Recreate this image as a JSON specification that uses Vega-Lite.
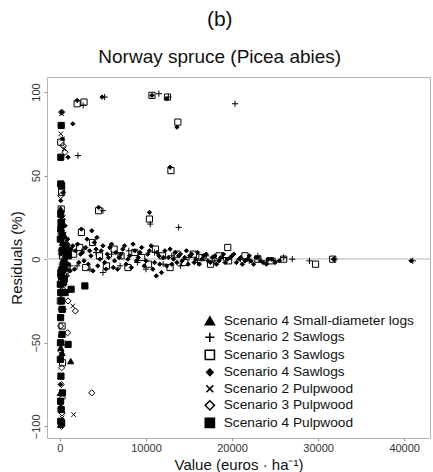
{
  "$schema": "https://vega.github.io/schema/vega-lite/v6.json",
  "width": 383,
  "height": 361,
  "autosize": {"type": "none"},
  "padding": {"left": 47, "top": 77, "right": 3, "bottom": 34},
  "background": "white",
  "config": {
    "font": "Liberation Sans",
    "view": {"stroke": "#b5b5b5", "strokeWidth": 1},
    "axis": {"grid": false, "domain": false, "tickColor": "#999", "tickSize": 3, "labelColor": "#333", "labelFontSize": 11, "titleFontSize": 15, "titleFontWeight": "normal", "titleColor": "#111"},
    "legend": {
      "labelFontSize": 13.7,
      "labelColor": "#111",
      "symbolSize": 85,
      "rowPadding": 1.5,
      "labelOffset": 7,
      "labelLimit": 300
    }
  },
  "title": {
    "text": "(b)",
    "subtitle": "Norway spruce (Picea abies)",
    "fontSize": 21,
    "fontWeight": "normal",
    "subtitleFontSize": 19,
    "subtitleColor": "#111",
    "color": "#111",
    "subtitlePadding": 18,
    "anchor": "middle",
    "frame": "bounds",
    "offset": 10
  },
  "data": {
    "values": [
      {"series": "Scenario 4 Sawlogs", "value": 2000, "residual": 95},
      {"series": "Scenario 4 Sawlogs", "value": 4900, "residual": 97},
      {"series": "Scenario 4 Sawlogs", "value": 10700, "residual": 98},
      {"series": "Scenario 4 Sawlogs", "value": 12400, "residual": 96},
      {"series": "Scenario 4 Sawlogs", "value": 13600, "residual": 79},
      {"series": "Scenario 4 Sawlogs", "value": 12800, "residual": 55},
      {"series": "Scenario 4 Sawlogs", "value": 1500, "residual": 81},
      {"series": "Scenario 4 Sawlogs", "value": 950, "residual": 61},
      {"series": "Scenario 4 Sawlogs", "value": 4500, "residual": 31},
      {"series": "Scenario 4 Sawlogs", "value": 10400, "residual": 28},
      {"series": "Scenario 4 Sawlogs", "value": 2500, "residual": 18},
      {"series": "Scenario 4 Sawlogs", "value": 3700, "residual": 17},
      {"series": "Scenario 4 Sawlogs", "value": 4300, "residual": 13},
      {"series": "Scenario 4 Sawlogs", "value": 200, "residual": 88},
      {"series": "Scenario 4 Sawlogs", "value": 300, "residual": 72},
      {"series": "Scenario 4 Sawlogs", "value": 400, "residual": 40},
      {"series": "Scenario 4 Sawlogs", "value": 150, "residual": 25},
      {"series": "Scenario 4 Sawlogs", "value": 600, "residual": 20},
      {"series": "Scenario 4 Sawlogs", "value": 1500, "residual": 8},
      {"series": "Scenario 4 Sawlogs", "value": 1800, "residual": 5},
      {"series": "Scenario 4 Sawlogs", "value": 2200, "residual": -2},
      {"series": "Scenario 4 Sawlogs", "value": 2600, "residual": 4},
      {"series": "Scenario 4 Sawlogs", "value": 3000, "residual": 7},
      {"series": "Scenario 4 Sawlogs", "value": 3300, "residual": -3},
      {"series": "Scenario 4 Sawlogs", "value": 3600, "residual": 2},
      {"series": "Scenario 4 Sawlogs", "value": 4000, "residual": 10},
      {"series": "Scenario 4 Sawlogs", "value": 4400, "residual": -4},
      {"series": "Scenario 4 Sawlogs", "value": 4800, "residual": 5},
      {"series": "Scenario 4 Sawlogs", "value": 5200, "residual": -2},
      {"series": "Scenario 4 Sawlogs", "value": 5500, "residual": 3},
      {"series": "Scenario 4 Sawlogs", "value": 5800, "residual": 7},
      {"series": "Scenario 4 Sawlogs", "value": 6200, "residual": -5},
      {"series": "Scenario 4 Sawlogs", "value": 6500, "residual": 4},
      {"series": "Scenario 4 Sawlogs", "value": 6900, "residual": 1},
      {"series": "Scenario 4 Sawlogs", "value": 7300, "residual": 6},
      {"series": "Scenario 4 Sawlogs", "value": 7700, "residual": -3},
      {"series": "Scenario 4 Sawlogs", "value": 8100, "residual": 2},
      {"series": "Scenario 4 Sawlogs", "value": 8500, "residual": 9},
      {"series": "Scenario 4 Sawlogs", "value": 8900, "residual": -1},
      {"series": "Scenario 4 Sawlogs", "value": 9300, "residual": 4},
      {"series": "Scenario 4 Sawlogs", "value": 9800, "residual": -4},
      {"series": "Scenario 4 Sawlogs", "value": 10200, "residual": 3},
      {"series": "Scenario 4 Sawlogs", "value": 10600, "residual": 8},
      {"series": "Scenario 4 Sawlogs", "value": 11000, "residual": -2},
      {"series": "Scenario 4 Sawlogs", "value": 11200, "residual": -10},
      {"series": "Scenario 4 Sawlogs", "value": 11500, "residual": 2},
      {"series": "Scenario 4 Sawlogs", "value": 11800, "residual": -8},
      {"series": "Scenario 4 Sawlogs", "value": 12200, "residual": 5},
      {"series": "Scenario 4 Sawlogs", "value": 12600, "residual": 1},
      {"series": "Scenario 4 Sawlogs", "value": 13000, "residual": -3},
      {"series": "Scenario 4 Sawlogs", "value": 13400, "residual": 4},
      {"series": "Scenario 4 Sawlogs", "value": 13800, "residual": 2},
      {"series": "Scenario 4 Sawlogs", "value": 14200, "residual": -1},
      {"series": "Scenario 4 Sawlogs", "value": 14700, "residual": 5},
      {"series": "Scenario 4 Sawlogs", "value": 15100, "residual": 2},
      {"series": "Scenario 4 Sawlogs", "value": 15600, "residual": -2},
      {"series": "Scenario 4 Sawlogs", "value": 16000, "residual": 4},
      {"series": "Scenario 4 Sawlogs", "value": 16500, "residual": 0},
      {"series": "Scenario 4 Sawlogs", "value": 17000, "residual": 3},
      {"series": "Scenario 4 Sawlogs", "value": 17500, "residual": -2},
      {"series": "Scenario 4 Sawlogs", "value": 18000, "residual": 2},
      {"series": "Scenario 4 Sawlogs", "value": 18500, "residual": -1},
      {"series": "Scenario 4 Sawlogs", "value": 19000, "residual": 3},
      {"series": "Scenario 4 Sawlogs", "value": 19500, "residual": 0},
      {"series": "Scenario 4 Sawlogs", "value": 20000, "residual": 2},
      {"series": "Scenario 4 Sawlogs", "value": 20500, "residual": -2},
      {"series": "Scenario 4 Sawlogs", "value": 21000, "residual": 1},
      {"series": "Scenario 4 Sawlogs", "value": 21500, "residual": -1},
      {"series": "Scenario 4 Sawlogs", "value": 22000, "residual": 2},
      {"series": "Scenario 4 Sawlogs", "value": 22500, "residual": -3},
      {"series": "Scenario 4 Sawlogs", "value": 23000, "residual": 1},
      {"series": "Scenario 4 Sawlogs", "value": 23600, "residual": -2},
      {"series": "Scenario 4 Sawlogs", "value": 24200, "residual": 0},
      {"series": "Scenario 4 Sawlogs", "value": 25000, "residual": -2},
      {"series": "Scenario 4 Sawlogs", "value": 31800, "residual": 0},
      {"series": "Scenario 4 Sawlogs", "value": 40800, "residual": -1},
      {"series": "Scenario 4 Sawlogs", "value": 1700, "residual": -6},
      {"series": "Scenario 4 Sawlogs", "value": 2050, "residual": 9},
      {"series": "Scenario 4 Sawlogs", "value": 2400, "residual": 3},
      {"series": "Scenario 4 Sawlogs", "value": 2800, "residual": -1},
      {"series": "Scenario 4 Sawlogs", "value": 3150, "residual": 12},
      {"series": "Scenario 4 Sawlogs", "value": 3450, "residual": 5},
      {"series": "Scenario 4 Sawlogs", "value": 3850, "residual": -7},
      {"series": "Scenario 4 Sawlogs", "value": 4200, "residual": 6},
      {"series": "Scenario 4 Sawlogs", "value": 4650, "residual": 0},
      {"series": "Scenario 4 Sawlogs", "value": 5000, "residual": 8},
      {"series": "Scenario 4 Sawlogs", "value": 5350, "residual": -6},
      {"series": "Scenario 4 Sawlogs", "value": 5650, "residual": 1},
      {"series": "Scenario 4 Sawlogs", "value": 6000, "residual": 9},
      {"series": "Scenario 4 Sawlogs", "value": 6350, "residual": -1},
      {"series": "Scenario 4 Sawlogs", "value": 6700, "residual": -6},
      {"series": "Scenario 4 Sawlogs", "value": 7100, "residual": 3},
      {"series": "Scenario 4 Sawlogs", "value": 7500, "residual": 8},
      {"series": "Scenario 4 Sawlogs", "value": 7900, "residual": 0},
      {"series": "Scenario 4 Sawlogs", "value": 8300, "residual": -5},
      {"series": "Scenario 4 Sawlogs", "value": 8700, "residual": 5},
      {"series": "Scenario 4 Sawlogs", "value": 9100, "residual": 1},
      {"series": "Scenario 4 Sawlogs", "value": 9500, "residual": 7},
      {"series": "Scenario 4 Sawlogs", "value": 10000, "residual": -1},
      {"series": "Scenario 4 Sawlogs", "value": 10400, "residual": 5},
      {"series": "Scenario 4 Sawlogs", "value": 10800, "residual": -6},
      {"series": "Scenario 4 Sawlogs", "value": 11300, "residual": 4},
      {"series": "Scenario 4 Sawlogs", "value": 11600, "residual": -3},
      {"series": "Scenario 4 Sawlogs", "value": 12000, "residual": 1},
      {"series": "Scenario 4 Sawlogs", "value": 12400, "residual": -4},
      {"series": "Scenario 4 Sawlogs", "value": 12800, "residual": 6},
      {"series": "Scenario 4 Sawlogs", "value": 13200, "residual": 0},
      {"series": "Scenario 4 Sawlogs", "value": 13600, "residual": -2},
      {"series": "Scenario 4 Sawlogs", "value": 14000, "residual": 3},
      {"series": "Scenario 4 Sawlogs", "value": 14500, "residual": 1},
      {"series": "Scenario 4 Sawlogs", "value": 14900, "residual": -3},
      {"series": "Scenario 4 Sawlogs", "value": 15300, "residual": 3},
      {"series": "Scenario 4 Sawlogs", "value": 15800, "residual": 0},
      {"series": "Scenario 4 Sawlogs", "value": 16200, "residual": -3},
      {"series": "Scenario 4 Sawlogs", "value": 16700, "residual": 2},
      {"series": "Scenario 4 Sawlogs", "value": 17200, "residual": -1},
      {"series": "Scenario 4 Sawlogs", "value": 17700, "residual": 1},
      {"series": "Scenario 4 Sawlogs", "value": 18200, "residual": -3},
      {"series": "Scenario 4 Sawlogs", "value": 18700, "residual": 1},
      {"series": "Scenario 4 Sawlogs", "value": 19200, "residual": -2},
      {"series": "Scenario 4 Sawlogs", "value": 19800, "residual": 1},
      {"series": "Scenario 4 Sawlogs", "value": 20200, "residual": 3},
      {"series": "Scenario 4 Sawlogs", "value": 20800, "residual": 0},
      {"series": "Scenario 4 Sawlogs", "value": 21200, "residual": -3},
      {"series": "Scenario 4 Sawlogs", "value": 21800, "residual": 0},
      {"series": "Scenario 4 Sawlogs", "value": 22200, "residual": -1},
      {"series": "Scenario 4 Sawlogs", "value": 22800, "residual": 1},
      {"series": "Scenario 4 Sawlogs", "value": 23300, "residual": -1},
      {"series": "Scenario 4 Sawlogs", "value": 24000, "residual": -3},
      {"series": "Scenario 4 Sawlogs", "value": 24600, "residual": 0},
      {"series": "Scenario 4 Sawlogs", "value": 25500, "residual": -1},
      {"series": "Scenario 4 Sawlogs", "value": 50, "residual": -5},
      {"series": "Scenario 4 Sawlogs", "value": 100, "residual": 3},
      {"series": "Scenario 4 Sawlogs", "value": 150, "residual": -12},
      {"series": "Scenario 4 Sawlogs", "value": 200, "residual": 10},
      {"series": "Scenario 4 Sawlogs", "value": 250, "residual": -2},
      {"series": "Scenario 4 Sawlogs", "value": 300, "residual": 6},
      {"series": "Scenario 4 Sawlogs", "value": 350, "residual": -8},
      {"series": "Scenario 4 Sawlogs", "value": 400, "residual": 14},
      {"series": "Scenario 4 Sawlogs", "value": 500, "residual": 1},
      {"series": "Scenario 4 Sawlogs", "value": 600, "residual": -15},
      {"series": "Scenario 4 Sawlogs", "value": 700, "residual": 5},
      {"series": "Scenario 4 Sawlogs", "value": 800, "residual": -6},
      {"series": "Scenario 4 Sawlogs", "value": 900, "residual": 12},
      {"series": "Scenario 4 Sawlogs", "value": 1000, "residual": -3},
      {"series": "Scenario 4 Sawlogs", "value": 1100, "residual": 4},
      {"series": "Scenario 4 Sawlogs", "value": 1200, "residual": -7},
      {"series": "Scenario 4 Sawlogs", "value": 50, "residual": -30},
      {"series": "Scenario 4 Sawlogs", "value": 100, "residual": -45},
      {"series": "Scenario 4 Sawlogs", "value": 120, "residual": -60},
      {"series": "Scenario 4 Sawlogs", "value": 80, "residual": -75},
      {"series": "Scenario 4 Sawlogs", "value": 60, "residual": -85},
      {"series": "Scenario 4 Sawlogs", "value": 100, "residual": -97},
      {"series": "Scenario 4 Sawlogs", "value": 150, "residual": 60},
      {"series": "Scenario 4 Sawlogs", "value": 100, "residual": 35},
      {"series": "Scenario 4 Sawlogs", "value": 200, "residual": -20},
      {"series": "Scenario 4 Sawlogs", "value": 300, "residual": 17},
      {"series": "Scenario 4 Sawlogs", "value": 450, "residual": -10},
      {"series": "Scenario 4 Sawlogs", "value": 550, "residual": 8},
      {"series": "Scenario 4 Sawlogs", "value": 650, "residual": -4},
      {"series": "Scenario 4 Sawlogs", "value": 1300, "residual": 6},

      {"series": "Scenario 2 Sawlogs", "value": 2700, "residual": 92},
      {"series": "Scenario 2 Sawlogs", "value": 5200, "residual": 97},
      {"series": "Scenario 2 Sawlogs", "value": 11500, "residual": 99},
      {"series": "Scenario 2 Sawlogs", "value": 12600, "residual": 97},
      {"series": "Scenario 2 Sawlogs", "value": 20350, "residual": 93},
      {"series": "Scenario 2 Sawlogs", "value": 2100, "residual": 62},
      {"series": "Scenario 2 Sawlogs", "value": 5000, "residual": 29},
      {"series": "Scenario 2 Sawlogs", "value": 10500, "residual": 21},
      {"series": "Scenario 2 Sawlogs", "value": 13800, "residual": 19},
      {"series": "Scenario 2 Sawlogs", "value": 29000, "residual": -1},
      {"series": "Scenario 2 Sawlogs", "value": 27000, "residual": 0},
      {"series": "Scenario 2 Sawlogs", "value": 31900, "residual": 0},
      {"series": "Scenario 2 Sawlogs", "value": 41000, "residual": -1},
      {"series": "Scenario 2 Sawlogs", "value": 26000, "residual": 1},
      {"series": "Scenario 2 Sawlogs", "value": 25000, "residual": -1},
      {"series": "Scenario 2 Sawlogs", "value": 2000, "residual": -4},
      {"series": "Scenario 2 Sawlogs", "value": 2800, "residual": 6},
      {"series": "Scenario 2 Sawlogs", "value": 3500, "residual": -6},
      {"series": "Scenario 2 Sawlogs", "value": 4200, "residual": 4},
      {"series": "Scenario 2 Sawlogs", "value": 5000, "residual": -8},
      {"series": "Scenario 2 Sawlogs", "value": 6000, "residual": 3},
      {"series": "Scenario 2 Sawlogs", "value": 7000, "residual": -4},
      {"series": "Scenario 2 Sawlogs", "value": 8000, "residual": 5},
      {"series": "Scenario 2 Sawlogs", "value": 9000, "residual": -2},
      {"series": "Scenario 2 Sawlogs", "value": 10000, "residual": -6},
      {"series": "Scenario 2 Sawlogs", "value": 11000, "residual": 4},
      {"series": "Scenario 2 Sawlogs", "value": 12000, "residual": -3},
      {"series": "Scenario 2 Sawlogs", "value": 13000, "residual": 2},
      {"series": "Scenario 2 Sawlogs", "value": 14000, "residual": -4},
      {"series": "Scenario 2 Sawlogs", "value": 15000, "residual": 1},
      {"series": "Scenario 2 Sawlogs", "value": 16000, "residual": -2},
      {"series": "Scenario 2 Sawlogs", "value": 17000, "residual": 2},
      {"series": "Scenario 2 Sawlogs", "value": 18000, "residual": -1},
      {"series": "Scenario 2 Sawlogs", "value": 19000, "residual": 1},
      {"series": "Scenario 2 Sawlogs", "value": 21000, "residual": 0},
      {"series": "Scenario 2 Sawlogs", "value": 22000, "residual": -1},
      {"series": "Scenario 2 Sawlogs", "value": 23000, "residual": 2},
      {"series": "Scenario 2 Sawlogs", "value": 24000, "residual": -1},
      {"series": "Scenario 2 Sawlogs", "value": 100, "residual": 5},
      {"series": "Scenario 2 Sawlogs", "value": 200, "residual": -3},
      {"series": "Scenario 2 Sawlogs", "value": 300, "residual": 8},
      {"series": "Scenario 2 Sawlogs", "value": 400, "residual": -6},
      {"series": "Scenario 2 Sawlogs", "value": 600, "residual": 2},
      {"series": "Scenario 2 Sawlogs", "value": 800, "residual": -10},
      {"series": "Scenario 2 Sawlogs", "value": 1000, "residual": 6},
      {"series": "Scenario 2 Sawlogs", "value": 150, "residual": 20},
      {"series": "Scenario 2 Sawlogs", "value": 250, "residual": -18},
      {"series": "Scenario 2 Sawlogs", "value": 1200, "residual": -4},

      {"series": "Scenario 3 Sawlogs", "value": 2000, "residual": 93},
      {"series": "Scenario 3 Sawlogs", "value": 2800, "residual": 94},
      {"series": "Scenario 3 Sawlogs", "value": 10700, "residual": 98},
      {"series": "Scenario 3 Sawlogs", "value": 12500, "residual": 97},
      {"series": "Scenario 3 Sawlogs", "value": 13700, "residual": 82},
      {"series": "Scenario 3 Sawlogs", "value": 12900, "residual": 53},
      {"series": "Scenario 3 Sawlogs", "value": 10400, "residual": 24},
      {"series": "Scenario 3 Sawlogs", "value": 4500, "residual": 29},
      {"series": "Scenario 3 Sawlogs", "value": 2500, "residual": 16},
      {"series": "Scenario 3 Sawlogs", "value": 19500, "residual": 7},
      {"series": "Scenario 3 Sawlogs", "value": 29700, "residual": -3},
      {"series": "Scenario 3 Sawlogs", "value": 31700, "residual": 0},
      {"series": "Scenario 3 Sawlogs", "value": 200, "residual": 40},
      {"series": "Scenario 3 Sawlogs", "value": 150, "residual": 30},
      {"series": "Scenario 3 Sawlogs", "value": 100, "residual": 70},
      {"series": "Scenario 3 Sawlogs", "value": 250, "residual": -40},
      {"series": "Scenario 3 Sawlogs", "value": 300, "residual": -62},
      {"series": "Scenario 3 Sawlogs", "value": 1600, "residual": 3},
      {"series": "Scenario 3 Sawlogs", "value": 2300, "residual": 7},
      {"series": "Scenario 3 Sawlogs", "value": 3000, "residual": -5},
      {"series": "Scenario 3 Sawlogs", "value": 3800, "residual": 10},
      {"series": "Scenario 3 Sawlogs", "value": 4600, "residual": 2},
      {"series": "Scenario 3 Sawlogs", "value": 5400, "residual": -4},
      {"series": "Scenario 3 Sawlogs", "value": 6300, "residual": 6},
      {"series": "Scenario 3 Sawlogs", "value": 7100, "residual": 2},
      {"series": "Scenario 3 Sawlogs", "value": 7900, "residual": -5},
      {"series": "Scenario 3 Sawlogs", "value": 8700, "residual": 4},
      {"series": "Scenario 3 Sawlogs", "value": 9500, "residual": 1},
      {"series": "Scenario 3 Sawlogs", "value": 10300, "residual": -3},
      {"series": "Scenario 3 Sawlogs", "value": 11100, "residual": 6},
      {"series": "Scenario 3 Sawlogs", "value": 11900, "residual": 2},
      {"series": "Scenario 3 Sawlogs", "value": 12800, "residual": -5},
      {"series": "Scenario 3 Sawlogs", "value": 13600, "residual": 3},
      {"series": "Scenario 3 Sawlogs", "value": 14500, "residual": -2},
      {"series": "Scenario 3 Sawlogs", "value": 15500, "residual": 3},
      {"series": "Scenario 3 Sawlogs", "value": 16500, "residual": 1},
      {"series": "Scenario 3 Sawlogs", "value": 17500, "residual": -3},
      {"series": "Scenario 3 Sawlogs", "value": 18500, "residual": 2},
      {"series": "Scenario 3 Sawlogs", "value": 19600, "residual": -1},
      {"series": "Scenario 3 Sawlogs", "value": 21500, "residual": 2},
      {"series": "Scenario 3 Sawlogs", "value": 23000, "residual": 0},
      {"series": "Scenario 3 Sawlogs", "value": 24500, "residual": -1},
      {"series": "Scenario 3 Sawlogs", "value": 26000, "residual": 0},
      {"series": "Scenario 3 Sawlogs", "value": 100, "residual": -8},
      {"series": "Scenario 3 Sawlogs", "value": 300, "residual": 2},
      {"series": "Scenario 3 Sawlogs", "value": 500, "residual": 9},
      {"series": "Scenario 3 Sawlogs", "value": 700, "residual": -4},
      {"series": "Scenario 3 Sawlogs", "value": 900, "residual": 3},
      {"series": "Scenario 3 Sawlogs", "value": 200, "residual": -14},
      {"series": "Scenario 3 Sawlogs", "value": 400, "residual": 12},
      {"series": "Scenario 3 Sawlogs", "value": 600, "residual": -9},
      {"series": "Scenario 3 Sawlogs", "value": 800, "residual": 7},
      {"series": "Scenario 3 Sawlogs", "value": 150, "residual": 22},
      {"series": "Scenario 3 Sawlogs", "value": 50, "residual": -25},

      {"series": "Scenario 4 Pulpwood", "value": 100, "residual": 61},
      {"series": "Scenario 4 Pulpwood", "value": 150, "residual": 80},
      {"series": "Scenario 4 Pulpwood", "value": 100, "residual": 45},
      {"series": "Scenario 4 Pulpwood", "value": 200, "residual": 44},
      {"series": "Scenario 4 Pulpwood", "value": 2900, "residual": -16},
      {"series": "Scenario 4 Pulpwood", "value": 950, "residual": -51},
      {"series": "Scenario 4 Pulpwood", "value": 100, "residual": -97},
      {"series": "Scenario 4 Pulpwood", "value": 150, "residual": -90},
      {"series": "Scenario 4 Pulpwood", "value": 80, "residual": -35},
      {"series": "Scenario 4 Pulpwood", "value": 200, "residual": -25},
      {"series": "Scenario 4 Pulpwood", "value": 50, "residual": -60},
      {"series": "Scenario 4 Pulpwood", "value": 120, "residual": -70},
      {"series": "Scenario 4 Pulpwood", "value": 300, "residual": -80},
      {"series": "Scenario 4 Pulpwood", "value": 200, "residual": -98},
      {"series": "Scenario 4 Pulpwood", "value": 50, "residual": 12},
      {"series": "Scenario 4 Pulpwood", "value": 150, "residual": -10},
      {"series": "Scenario 4 Pulpwood", "value": 250, "residual": 5},
      {"series": "Scenario 4 Pulpwood", "value": 350, "residual": -6},
      {"series": "Scenario 4 Pulpwood", "value": 500, "residual": -2},
      {"series": "Scenario 4 Pulpwood", "value": 700, "residual": 8},
      {"series": "Scenario 4 Pulpwood", "value": 100, "residual": 27},
      {"series": "Scenario 4 Pulpwood", "value": 150, "residual": 22},
      {"series": "Scenario 4 Pulpwood", "value": 250, "residual": -45},
      {"series": "Scenario 4 Pulpwood", "value": 80, "residual": -85},
      {"series": "Scenario 4 Pulpwood", "value": 600, "residual": -20},
      {"series": "Scenario 4 Pulpwood", "value": 1000, "residual": 2},
      {"series": "Scenario 4 Pulpwood", "value": 1300, "residual": -18},
      {"series": "Scenario 4 Pulpwood", "value": 50, "residual": -15},
      {"series": "Scenario 4 Pulpwood", "value": 100, "residual": 18},
      {"series": "Scenario 4 Pulpwood", "value": 200, "residual": -8},
      {"series": "Scenario 4 Pulpwood", "value": 300, "residual": 14},
      {"series": "Scenario 4 Pulpwood", "value": 400, "residual": -3},
      {"series": "Scenario 4 Pulpwood", "value": 500, "residual": -12},
      {"series": "Scenario 4 Pulpwood", "value": 800, "residual": 3},
      {"series": "Scenario 4 Pulpwood", "value": 100, "residual": -20},
      {"series": "Scenario 4 Pulpwood", "value": 250, "residual": -30},
      {"series": "Scenario 4 Pulpwood", "value": 60, "residual": -50},

      {"series": "Scenario 3 Pulpwood", "value": 200, "residual": 88},
      {"series": "Scenario 3 Pulpwood", "value": 150, "residual": 80},
      {"series": "Scenario 3 Pulpwood", "value": 350, "residual": 68},
      {"series": "Scenario 3 Pulpwood", "value": 600, "residual": 64},
      {"series": "Scenario 3 Pulpwood", "value": 950, "residual": -25},
      {"series": "Scenario 3 Pulpwood", "value": 1800, "residual": -31},
      {"series": "Scenario 3 Pulpwood", "value": 900, "residual": -44},
      {"series": "Scenario 3 Pulpwood", "value": 3700, "residual": -80},
      {"series": "Scenario 3 Pulpwood", "value": 100, "residual": 38},
      {"series": "Scenario 3 Pulpwood", "value": 200, "residual": -65},
      {"series": "Scenario 3 Pulpwood", "value": 150, "residual": -75},
      {"series": "Scenario 3 Pulpwood", "value": 300, "residual": -83},
      {"series": "Scenario 3 Pulpwood", "value": 250, "residual": -92},
      {"series": "Scenario 3 Pulpwood", "value": 120, "residual": -55},
      {"series": "Scenario 3 Pulpwood", "value": 80, "residual": -40},
      {"series": "Scenario 3 Pulpwood", "value": 400, "residual": -30},
      {"series": "Scenario 3 Pulpwood", "value": 200, "residual": -15},
      {"series": "Scenario 3 Pulpwood", "value": 100, "residual": 15},
      {"series": "Scenario 3 Pulpwood", "value": 300, "residual": -5},
      {"series": "Scenario 3 Pulpwood", "value": 500, "residual": 10},
      {"series": "Scenario 3 Pulpwood", "value": 180, "residual": -100},
      {"series": "Scenario 3 Pulpwood", "value": 120, "residual": -20},
      {"series": "Scenario 3 Pulpwood", "value": 50, "residual": -10},
      {"series": "Scenario 3 Pulpwood", "value": 250, "residual": 20},
      {"series": "Scenario 3 Pulpwood", "value": 350, "residual": -18},

      {"series": "Scenario 2 Pulpwood", "value": 200, "residual": 87},
      {"series": "Scenario 2 Pulpwood", "value": 300, "residual": 72},
      {"series": "Scenario 2 Pulpwood", "value": 500, "residual": 66},
      {"series": "Scenario 2 Pulpwood", "value": 1500, "residual": -28},
      {"series": "Scenario 2 Pulpwood", "value": 1600, "residual": -93},
      {"series": "Scenario 2 Pulpwood", "value": 100, "residual": 75},
      {"series": "Scenario 2 Pulpwood", "value": 300, "residual": -50},
      {"series": "Scenario 2 Pulpwood", "value": 200, "residual": -70},
      {"series": "Scenario 2 Pulpwood", "value": 150, "residual": -85},
      {"series": "Scenario 2 Pulpwood", "value": 250, "residual": -95},
      {"series": "Scenario 2 Pulpwood", "value": 100, "residual": -35},
      {"series": "Scenario 2 Pulpwood", "value": 400, "residual": -15},
      {"series": "Scenario 2 Pulpwood", "value": 200, "residual": 5},
      {"series": "Scenario 2 Pulpwood", "value": 600, "residual": -8},
      {"series": "Scenario 2 Pulpwood", "value": 400, "residual": 25},
      {"series": "Scenario 2 Pulpwood", "value": 150, "residual": -60},
      {"series": "Scenario 2 Pulpwood", "value": 100, "residual": -22},
      {"series": "Scenario 2 Pulpwood", "value": 300, "residual": -12},
      {"series": "Scenario 2 Pulpwood", "value": 500, "residual": 15},

      {"series": "Scenario 4 Small-diameter logs", "value": 200, "residual": 44},
      {"series": "Scenario 4 Small-diameter logs", "value": 1250, "residual": -61},
      {"series": "Scenario 4 Small-diameter logs", "value": 100, "residual": -53},
      {"series": "Scenario 4 Small-diameter logs", "value": 250, "residual": -56},
      {"series": "Scenario 4 Small-diameter logs", "value": 150, "residual": -45},
      {"series": "Scenario 4 Small-diameter logs", "value": 100, "residual": -88},
      {"series": "Scenario 4 Small-diameter logs", "value": 60, "residual": -99},
      {"series": "Scenario 4 Small-diameter logs", "value": 300, "residual": -30},
      {"series": "Scenario 4 Small-diameter logs", "value": 200, "residual": -20},
      {"series": "Scenario 4 Small-diameter logs", "value": 80, "residual": 30},
      {"series": "Scenario 4 Small-diameter logs", "value": 150, "residual": -5},
      {"series": "Scenario 4 Small-diameter logs", "value": 300, "residual": 10},
      {"series": "Scenario 4 Small-diameter logs", "value": 400, "residual": -10},
      {"series": "Scenario 4 Small-diameter logs", "value": 100, "residual": -70},
      {"series": "Scenario 4 Small-diameter logs", "value": 50, "residual": -80}
    ]
  },
  "layer": [
    {
      "mark": {"type": "rule", "color": "#d9d9d9", "strokeWidth": 1},
      "encoding": {"y": {"datum": 0, "type": "quantitative"}}
    },
    {
      "mark": {"type": "point", "size": 38, "stroke": "black", "strokeWidth": 1, "opacity": 1},
      "encoding": {
        "x": {
          "field": "value", "type": "quantitative",
          "scale": {"domain": [-1500, 43000], "nice": false, "zero": false},
          "axis": {"values": [0, 10000, 20000, 30000, 40000], "format": "d", "title": "Value (euros · ha⁻¹)", "labelPadding": 1, "titlePadding": 4}
        },
        "y": {
          "field": "residual", "type": "quantitative",
          "scale": {"domain": [-107, 109], "nice": false, "zero": false},
          "axis": {"values": [-100, -50, 0, 50, 100], "title": "Residuals (%)", "labelAngle": -90, "labelAlign": "center", "labelBaseline": "bottom", "labelPadding": 3, "titlePadding": 6}
        },
        "shape": {
          "field": "series", "type": "nominal",
          "scale": {
            "domain": ["Scenario 4 Small-diameter logs", "Scenario 2 Sawlogs", "Scenario 3 Sawlogs", "Scenario 4 Sawlogs", "Scenario 2 Pulpwood", "Scenario 3 Pulpwood", "Scenario 4 Pulpwood"],
            "range": ["triangle-up", "M-1,0L1,0M0,-1L0,1", "square", "M0,-0.7L0.7,0L0,0.7L-0.7,0Z", "M-0.75,-0.75L0.75,0.75M-0.75,0.75L0.75,-0.75", "diamond", "square"]
          },
          "legend": {
            "title": null,
            "orient": "none",
            "legendX": 156,
            "legendY": 237,
            "encode": {"symbols": {"update": {"stroke": {"value": "black"}, "strokeWidth": {"value": 1}}}}
          }
        },
        "fill": {
          "field": "series", "type": "nominal",
          "scale": {
            "domain": ["Scenario 4 Small-diameter logs", "Scenario 2 Sawlogs", "Scenario 3 Sawlogs", "Scenario 4 Sawlogs", "Scenario 2 Pulpwood", "Scenario 3 Pulpwood", "Scenario 4 Pulpwood"],
            "range": ["black", "transparent", "transparent", "black", "transparent", "transparent", "black"]
          },
          "legend": {
            "title": null,
            "orient": "none",
            "legendX": 156,
            "legendY": 237,
            "encode": {"symbols": {"update": {"stroke": {"value": "black"}, "strokeWidth": {"value": 1}}}}
          }
        }
      }
    }
  ]
}
